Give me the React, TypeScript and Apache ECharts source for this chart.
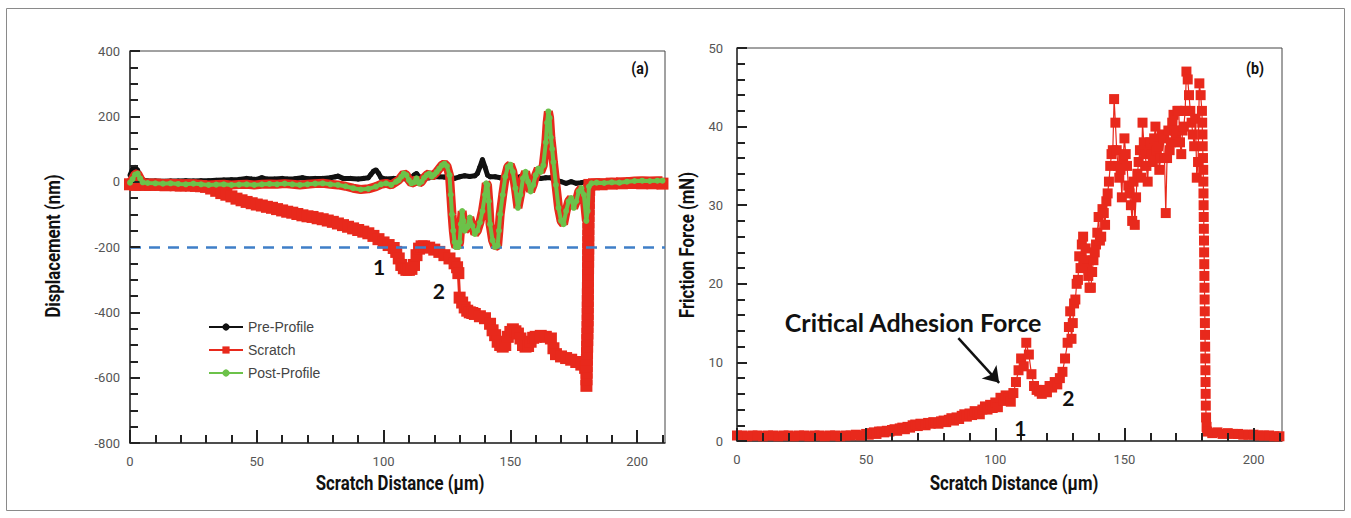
import React, { useEffect, useRef } from "react";
import * as echarts from "echarts";

// ---------- data ----------
const xLabelStep = 50;
const xMax = 211;
const displacementMin = -800;
const displacementMax = 400;
const frictionMin = 0;
const frictionMax = 50;
const criticalLevel = -200;

const seriesNames = ["Pre-Profile", "Scratch", "Post-Profile"];
const xTitle = "Scratch Distance (µm)";
const yTitleLeft = "Displacement (nm)";
const yTitleRight = "Friction Force (mN)";

// tick positions (major ones carry labels)
const xTickValues = [0, 10, 20, 30, 40, 50, 60, 70, 80, 90, 100, 110, 120, 130, 140, 150, 160, 170, 180, 190, 200, 210];
const displacementTickValues = [-800, -750, -700, -650, -600, -550, -500, -450, -400, -350, -300, -250, -200, -150, -100, -50, 0, 50, 100, 150, 200, 250, 300, 350, 400];
const frictionTickValues = [0, 2, 4, 6, 8, 10, 12, 14, 16, 18, 20, 22, 24, 26, 28, 30, 32, 34, 36, 38, 40, 42, 44, 46, 48, 50];

const preProfile: [number, number][] = [
  [0, 20], [1, 38], [2, 44], [3, 35], [4, 15], [5, 5], [7, 2], [10, 2], [13, 1], [16, 2], [19, 2], [22, 3],
  [25, 2], [28, 3], [31, 3], [34, 4], [37, 5], [40, 6], [43, 7], [46, 10], [48, 8], [50, 7], [52, 12], [54, 8],
  [57, 8], [60, 10], [62, 8], [65, 9], [68, 12], [70, 9], [73, 10], [76, 10], [79, 12], [81, 15], [82, 17],
  [84, 10], [87, 10], [90, 8], [92, 10], [94, 12], [95, 22], [96, 32], [97, 36], [98, 26], [99, 12], [101, 8],
  [104, 10], [107, 10], [109, 8], [111, 12], [112, 20], [113, 25], [114, 15], [116, 10], [118, 12], [120, 15],
  [122, 15], [124, 14], [126, 12], [128, 10], [130, 15], [132, 18], [134, 16], [136, 18], [137, 25], [138, 45],
  [139, 68], [140, 45], [141, 20], [142, 15], [144, 15], [146, 12], [148, 14], [150, 14], [152, 12], [154, 15],
  [156, 14], [158, 12], [160, 12], [162, 10], [164, 12], [166, 12], [168, 5], [170, 0], [172, -5], [174, 0],
  [176, -5], [178, -3], [180, 0],
];

const scratch: [number, number][] = [
  [0, -8], [2, -10], [4, -9], [6, -10], [8, -10], [10, -9], [12, -10], [14, -11], [16, -10], [18, -11],
  [20, -12], [22, -11], [24, -12], [26, -13], [28, -14], [30, -16], [32, -21], [34, -28], [36, -35], [38, -40],
  [40, -45], [42, -52], [44, -57], [46, -62], [48, -66], [50, -70], [52, -73], [54, -77], [56, -80], [58, -84],
  [60, -88], [62, -92], [64, -95], [66, -99], [68, -103], [70, -106], [72, -108], [74, -112], [76, -115],
  [78, -119], [80, -123], [82, -128], [84, -133], [86, -138], [88, -143], [90, -148], [92, -153], [94, -158],
  [96, -166], [98, -176], [100, -186], [102, -194], [104, -203], [105, -215], [106, -235], [107, -255],
  [108, -265], [109, -270], [110, -270], [111, -267], [112, -255], [113, -225], [114, -205], [115, -198],
  [116, -198], [118, -202], [120, -208], [122, -215], [124, -225], [126, -235], [128, -250], [129, -262],
  [129.5, -280], [130, -355], [131, -370], [132, -385], [133, -395], [134, -400], [135, -402], [136, -405],
  [138, -412], [140, -418], [142, -435], [143, -455], [144, -470], [145, -490], [146, -500], [147, -505],
  [148, -500], [149, -475], [150, -460], [151, -452], [152, -458], [153, -465], [154, -480], [155, -500],
  [156, -505], [157, -503], [158, -490], [159, -478], [160, -475], [162, -472], [164, -475], [166, -480],
  [167, -510], [168, -528], [170, -535], [172, -540], [174, -545], [176, -552], [178, -560], [179.5, -570],
  [180, -625], [180.05, -605], [180.1, -585], [180.15, -565], [180.2, -545], [180.25, -525], [180.3, -505],
  [180.35, -485], [180.4, -465], [180.45, -445], [180.5, -425], [180.52, -405], [180.54, -385], [180.56, -365],
  [180.58, -345], [180.6, -325], [180.62, -305], [180.64, -285], [180.66, -265], [180.68, -245], [180.7, -225],
  [180.72, -205], [180.74, -185], [180.76, -165], [180.78, -145], [180.8, -125], [180.85, -105], [180.9, -85],
  [180.95, -65], [181, -45], [181.1, -25], [181.2, -10], [183, -8], [186, -8], [190, -6], [194, -5], [198, -4],
  [202, -5], [206, -5], [210, -6],
];

const postProfile: [number, number][] = [
  [0, -3], [1, 8], [2, 22], [3, 25], [4, 10], [5, -2], [7, -4], [10, -5], [13, -6], [16, -5], [19, -7],
  [22, -8], [25, -6], [28, -8], [31, -10], [34, -9], [37, -8], [40, -10], [43, -9], [46, -8], [49, -10],
  [52, -8], [55, -7], [58, -8], [61, -6], [64, -8], [67, -10], [70, -8], [73, -6], [76, -5], [79, -8],
  [82, -10], [85, -14], [88, -20], [91, -24], [94, -22], [97, -15], [99, -8], [101, -5], [103, -10], [105, 0],
  [106, 5], [107, 15], [108, 25], [109, 20], [110, 5], [111, -5], [112, -2], [113, 10], [114, -5], [115, 0],
  [116, 12], [117, 20], [118, 25], [119, 15], [120, 22], [121, 30], [122, 40], [123, 50], [124, 55], [125, 48],
  [126, 20], [126.5, -40], [127, -100], [127.5, -150], [128, -185], [128.5, -200], [129, -195], [129.5, -200],
  [130, -185], [130.5, -130], [131, -90], [131.5, -120], [132, -150], [133, -140], [134, -110], [135, -135],
  [136, -160], [137, -150], [138, -125], [139, -90], [140, -40], [140.5, -5], [141, -10], [141.5, -60],
  [142, -130], [143, -180], [144, -200], [145, -195], [145.5, -150], [146, -100], [147, -40], [148, 15],
  [149, 45], [150, 52], [151, 30], [152, -20], [153, -80], [154, -40], [155, 10], [156, 30], [157, 0],
  [158, -30], [159, -10], [160, 20], [161, 40], [162, 30], [163, 50], [164, 120], [164.5, 180], [165, 215],
  [165.5, 195], [166, 135], [166.5, 100], [167, 60], [168, -10], [169, -80], [170, -120], [171, -130],
  [172, -90], [173, -60], [174, -50], [175, -80], [176, -60], [177, -30], [178, -20], [179, -40], [180, -120],
  [180.5, -90], [181, -15], [182, -5], [184, -3], [187, -4], [190, -2], [193, -3], [196, 0], [199, 2],
  [202, 3], [205, 2], [208, 3], [210, 3],
];

const friction: [number, number][] = [
  [0, 0.7], [2, 0.7], [4, 0.6], [6, 0.7], [8, 0.7], [10, 0.6], [12, 0.7], [14, 0.7], [16, 0.6], [18, 0.7],
  [20, 0.7], [22, 0.6], [24, 0.7], [26, 0.7], [28, 0.6], [30, 0.7], [32, 0.7], [34, 0.6], [36, 0.7],
  [38, 0.7], [40, 0.6], [42, 0.7], [44, 0.7], [46, 0.8], [48, 0.7], [50, 0.9], [51, 0.8], [52, 1.0],
  [53, 1.1], [54, 0.9], [55, 1.2], [56, 1.2], [57, 1.1], [58, 1.3], [59, 1.2], [60, 1.4], [61, 1.5],
  [62, 1.3], [63, 1.6], [64, 1.7], [65, 1.5], [66, 1.8], [67, 1.7], [68, 2.0], [69, 2.1], [70, 1.9],
  [71, 2.2], [72, 2.1], [73, 2.0], [74, 2.3], [75, 2.2], [76, 2.4], [77, 2.3], [78, 2.2], [79, 2.5],
  [80, 2.6], [81, 2.4], [82, 2.7], [83, 2.9], [84, 2.6], [85, 3.0], [86, 2.8], [87, 3.2], [88, 3.4],
  [89, 3.1], [90, 3.5], [91, 3.3], [92, 3.8], [93, 3.6], [94, 3.4], [95, 4.0], [96, 4.4], [97, 4.0],
  [98, 4.6], [99, 4.2], [100, 4.9], [101, 4.3], [102, 5.5], [103, 5.1], [104, 5.8], [105, 5.4], [106, 5.0],
  [107, 6.1], [108, 7.5], [109, 9.0], [110, 10.5], [111, 9.5], [112, 12.5], [113, 11.0], [114, 8.5],
  [115, 7.0], [116, 6.5], [117, 6.3], [118, 6.0], [119, 6.5], [120, 6.2], [121, 7.0], [122, 6.8], [123, 7.5],
  [124, 7.2], [125, 8.0], [126, 8.8], [127, 10.5], [128, 12.5], [128.5, 14.5], [129, 16.5], [129.5, 13.0],
  [130, 15.0], [130.5, 17.5], [131, 18.0], [131.5, 20.0], [132, 20.5], [132.5, 23.5], [133, 22.0],
  [133.5, 25.0], [134, 26.0], [134.5, 23.0], [135, 24.5], [135.5, 22.0], [136, 21.0], [136.5, 19.5],
  [137, 19.5], [137.5, 21.5], [138, 23.0], [138.5, 24.0], [139, 25.0], [139.5, 26.5], [140, 28.5],
  [140.5, 25.5], [141, 26.0], [141.5, 29.5], [142, 29.0], [142.5, 27.5], [143, 30.5], [143.5, 31.5],
  [144, 33.0], [144.5, 35.0], [145, 36.5], [145.5, 37.0], [146, 43.5], [146.5, 40.5], [147, 37.0],
  [147.5, 35.0], [148, 33.5], [148.5, 34.5], [149, 31.0], [149.5, 36.0], [150, 38.5], [150.5, 36.5],
  [151, 35.0], [151.5, 32.5], [152, 31.5], [152.5, 30.0], [153, 28.0], [153.5, 33.0], [154, 27.5],
  [154.5, 31.0], [155, 34.0], [155.5, 35.5], [156, 37.0], [156.5, 33.5], [157, 40.5], [157.5, 38.0],
  [158, 36.5], [158.5, 35.0], [159, 33.0], [159.5, 37.0], [160, 38.0], [160.5, 36.5], [161, 35.5],
  [161.5, 38.5], [162, 40.0], [162.5, 37.0], [163, 37.5], [163.5, 34.5], [164, 36.0], [164.5, 39.0],
  [165, 38.5], [165.5, 36.0], [166, 29.0], [166.5, 36.0], [167, 39.5], [167.5, 37.0], [168, 38.0],
  [168.5, 40.5], [169, 41.5], [169.5, 39.5], [170, 39.0], [170.5, 42.0], [171, 42.0], [171.5, 38.0],
  [172, 36.5], [172.5, 39.5], [173, 40.0], [173.5, 42.0], [174, 47.0], [174.5, 46.0], [175, 44.0],
  [175.5, 42.0], [176, 40.5], [176.5, 39.0], [177, 37.5], [177.5, 41.0], [178, 33.5], [178.5, 35.5],
  [179, 45.5], [179.5, 44.0], [180, 42.0], [180.1, 40.5], [180.2, 39.0], [180.3, 37.5], [180.4, 36.0],
  [180.5, 34.5], [180.55, 33.0], [180.6, 31.5], [180.65, 30.0], [180.7, 28.5], [180.75, 27.0], [180.8, 25.5],
  [180.85, 24.0], [180.9, 22.5], [180.95, 21.0], [181, 19.5], [181.05, 18.0], [181.1, 16.5], [181.15, 15.0],
  [181.2, 13.5], [181.25, 12.0], [181.3, 10.5], [181.35, 9.0], [181.4, 7.5], [181.45, 6.0], [181.5, 4.5],
  [181.6, 3.0], [181.8, 1.8], [182, 1.2], [184, 1.0], [186, 1.1], [188, 0.9], [190, 1.0], [192, 0.9],
  [194, 0.9], [196, 0.8], [198, 0.8], [200, 0.8], [202, 0.7], [204, 0.7], [206, 0.7], [208, 0.6], [210, 0.6],
];

// annotation anchors (data coordinates)
const leftNotes: { text: string; at: [number, number] }[] = [
  { text: "1", at: [98.2, -261] },
  { text: "2", at: [121.8, -332] },
];
const rightNotes: { text: string; at: [number, number] }[] = [
  { text: "1", at: [109.7, 1.7] },
  { text: "2", at: [128.3, 5.5] },
];
const criticalText = "Critical Adhesion Force";
const criticalTextAt: [number, number] = [68.2, 15.1];
const arrowFrom: [number, number] = [85.7, 13.1];
const arrowTo: [number, number] = [101.5, 7.4];

// ---------- layout & styles ----------
const GRID0 = { left: 130, top: 51, width: 535, height: 392 };
const GRID1 = { left: 737, top: 48, width: 545, height: 393 };
const RED = "#e8291c";
const GREEN = "#6cc24a";
const BLUE = "#3f7fc8";
const TITLEFONT = "Roboto, 'Liberation Sans', sans-serif";
const BOLDSANS = "Lato, 'Open Sans', 'Noto Sans', sans-serif";
const TICK_STYLE = { color: "#222", width: 2, type: "solid", opacity: 1 };

const tickLabel = {
  color: "#555",
  fontSize: 13,
  fontFamily: "Roboto, 'Liberation Sans', sans-serif",
};
const axisLine = { show: true, onZero: false, lineStyle: { color: "#333", width: 1.5 } };

function noteLabel(text: string, size: number) {
  return {
    show: true,
    position: "inside",
    formatter: text,
    fontSize: size,
    fontWeight: "bold",
    fontFamily: BOLDSANS,
    color: "#111",
  };
}

function condensedText(text: string, x: number, y: number, size: number, rotation = 0) {
  return {
    type: "text",
    x,
    y,
    rotation,
    scaleX: 0.84,
    silent: true,
    z: 100,
    style: {
      text,
      font: `bold ${size}px ${TITLEFONT}`,
      fill: "#111",
      align: "center",
      verticalAlign: "middle",
    },
  };
}

// inward tick marks as short marker lines in data coordinates
function tickMarks(
  grid: { width: number; height: number },
  yMin: number,
  yMax: number,
  yValues: number[],
  yMajor: number
) {
  const xPerPx = xMax / grid.width;
  const yPerPx = (yMax - yMin) / grid.height;
  const seg = (a: number[], b: number[]) => [
    { coord: a, symbol: "none", lineStyle: TICK_STYLE },
    { coord: b, symbol: "none" },
  ];
  const xs = xTickValues.map((v) => {
    const len = v % xLabelStep === 0 ? 13 : 8;
    return seg([v, yMin], [v, yMin + len * yPerPx]);
  });
  const ys = yValues.map((v) => {
    const len = v % yMajor === 0 ? 10 : 8;
    return seg([0, v], [len * xPerPx, v]);
  });
  return [...xs, ...ys];
}

export default function App() {
  const ref = useRef<HTMLDivElement>(null);
  useEffect(() => {
    if (!ref.current) return;
    const chart = echarts.init(ref.current, null, { renderer: "svg" });

    const mainX = (grid: number) => ({
      gridIndex: grid,
      type: "value",
      min: 0,
      max: xMax,
      interval: xLabelStep,
      position: "bottom",
      axisLine,
      axisTick: { show: false },
      splitLine: { show: false },
      axisLabel: {
        ...tickLabel,
        margin: 12,
        formatter: (v: number) => (v % xLabelStep === 0 ? String(v) : ""),
      },
    });

    const option: any = {
      animation: false,
      backgroundColor: "#fff",
      grid: [
        { ...GRID0, show: true, borderColor: "#444", borderWidth: 1 },
        { ...GRID1, show: true, borderColor: "#444", borderWidth: 1 },
      ],
      xAxis: [mainX(0), mainX(1)],
      yAxis: [
        {
          gridIndex: 0,
          type: "value",
          min: displacementMin,
          max: displacementMax,
          interval: 200,
          axisLine,
          axisTick: { show: false },
          splitLine: { show: false },
          axisLabel: { ...tickLabel, margin: 10 },
        },
        {
          gridIndex: 1,
          type: "value",
          min: frictionMin,
          max: frictionMax,
          interval: 10,
          axisLine,
          axisTick: { show: false },
          splitLine: { show: false },
          axisLabel: { ...tickLabel, margin: 14 },
        },
      ],
      legend: {
        data: seriesNames,
        orient: "vertical",
        left: 203,
        top: 315,
        itemWidth: 34,
        itemHeight: 9,
        itemGap: 9,
        lineStyle: { width: 2 },
        textStyle: { fontSize: 14, color: "#444", fontFamily: "'Liberation Sans', Arial, sans-serif" },
      },
      series: [
        {
          name: seriesNames[0],
          type: "line",
          xAxisIndex: 0,
          yAxisIndex: 0,
          data: preProfile,
          showAllSymbol: true,
          symbol: "circle",
          symbolSize: 5,
          itemStyle: { color: "#111" },
          lineStyle: { color: "#111", width: 5 },
          z: 2,
        },
        {
          name: seriesNames[1],
          type: "line",
          xAxisIndex: 0,
          yAxisIndex: 0,
          data: scratch,
          showAllSymbol: true,
          symbol: "rect",
          symbolSize: 12,
          itemStyle: { color: RED },
          lineStyle: { color: RED, width: 3 },
          z: 3,
          markPoint: {
            silent: true,
            symbol: "circle",
            symbolSize: 1,
            itemStyle: { color: "rgba(0,0,0,0)" },
            data: leftNotes.map((n) => ({ coord: n.at, label: noteLabel(n.text, 21) })),
          },
        },
        {
          name: "Post-Profile outline",
          type: "line",
          xAxisIndex: 0,
          yAxisIndex: 0,
          data: postProfile,
          symbol: "none",
          silent: true,
          lineStyle: { color: RED, width: 9 },
          z: 4,
        },
        {
          name: seriesNames[2],
          type: "line",
          xAxisIndex: 0,
          yAxisIndex: 0,
          data: postProfile,
          showAllSymbol: true,
          symbol: "circle",
          symbolSize: 6,
          itemStyle: { color: GREEN },
          lineStyle: { color: GREEN, width: 4 },
          z: 5,
          markLine: {
            silent: true,
            symbol: ["none", "none"],
            label: { show: false },
            lineStyle: { color: BLUE, type: [11, 8], width: 2.5 },
            data: [
              { yAxis: criticalLevel },
              ...tickMarks(GRID0, displacementMin, displacementMax, displacementTickValues, 200),
            ],
          },
        },
        {
          name: "Friction",
          type: "line",
          xAxisIndex: 1,
          yAxisIndex: 1,
          data: friction,
          showAllSymbol: true,
          symbol: "rect",
          symbolSize: 10,
          itemStyle: { color: RED },
          lineStyle: { color: RED, width: 1.2 },
          markPoint: {
            silent: true,
            symbol: "circle",
            symbolSize: 1,
            itemStyle: { color: "rgba(0,0,0,0)" },
            data: [
              ...rightNotes.map((n) => ({ coord: n.at, label: noteLabel(n.text, 21) })),
              { coord: criticalTextAt, label: noteLabel(criticalText, 25) },
            ],
          },
          markLine: {
            silent: true,
            symbol: ["none", "arrow"],
            symbolSize: 15,
            label: { show: false },
            lineStyle: { color: "#111", type: "solid", width: 2.5 },
            data: [
              [{ coord: arrowFrom }, { coord: arrowTo }],
              ...tickMarks(GRID1, frictionMin, frictionMax, frictionTickValues, 10),
            ],
          },
        },
      ],
      graphic: [
        {
          type: "rect",
          silent: true,
          shape: { x: 6.5, y: 8.5, width: 1338, height: 502 },
          style: { fill: "none", stroke: "#8a8a8a", lineWidth: 1 },
        },
        condensedText("(a)", 640, 68, 17),
        condensedText("(b)", 1255, 68, 17),
        condensedText(xTitle, 400, 484, 20),
        condensedText(xTitle, 1014, 484, 20),
        condensedText(yTitleLeft, 54, 246, 20, Math.PI / 2),
        condensedText(yTitleRight, 688, 245, 20, Math.PI / 2),
      ],
    };
    chart.setOption(option);
    return () => chart.dispose();
  }, []);
  return (
    <div
      ref={ref}
      style={{ position: "absolute", left: 0, top: 0, width: 1351, height: 518, background: "#fff" }}
    />
  );
}
